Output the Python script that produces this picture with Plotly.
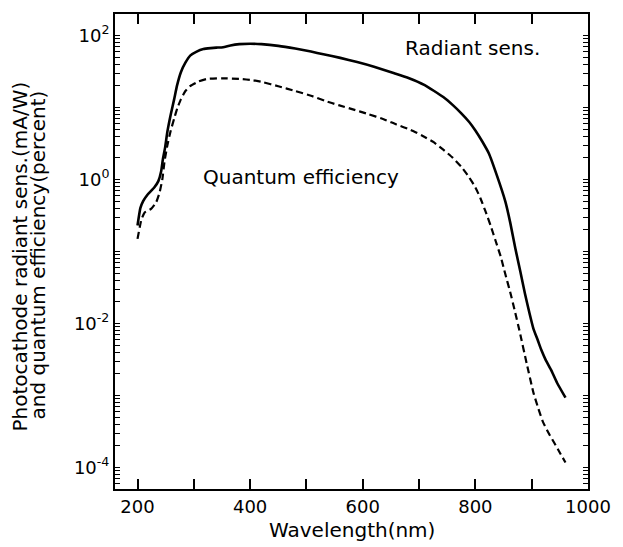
import plotly.graph_objects as go

# Radiant sensitivity (mA/W) -- solid curve
rad_wl = [200, 205, 210, 218, 230, 237, 242, 245, 249, 253, 259, 265, 270, 277, 285, 294, 305, 317, 330,
          340, 352, 365, 381, 400, 420, 450, 480, 508, 530, 560, 590, 620, 656, 680, 710, 743, 760, 775,
          789, 800, 812, 824, 838, 853, 862, 871, 880, 888, 896, 903, 911, 917, 925, 934, 945, 960]
rad_val = [0.23, 0.40, 0.50, 0.62, 0.78, 0.95, 1.3, 1.9, 2.8, 4.6, 8, 13, 20, 31, 42, 53, 60, 65, 67,
           68, 69, 73, 76, 77, 76, 72, 66, 60, 55, 49, 43, 37, 30, 26, 20.5, 14, 10.8, 8.3,
           6.3, 4.8, 3.4, 2.3, 1.15, 0.5, 0.25, 0.11, 0.052, 0.026, 0.014, 0.0085, 0.0058, 0.0043, 0.0031,
           0.0023, 0.0015, 0.00093]

# Quantum efficiency (percent) -- dashed curve
qe_wl = [200, 207, 213, 224, 233, 239, 244, 248, 253, 259, 265, 271, 277, 285, 294, 308, 323, 350, 381,
         405, 423, 450, 480, 508, 533, 557, 581, 610, 637, 660, 685, 705, 726, 743, 760, 775, 788, 800,
         809, 818, 827, 836, 845, 853, 862, 870, 879, 891, 903, 912, 920, 930, 940, 950, 960]
qe_val = [0.15, 0.28, 0.35, 0.39, 0.48, 0.65, 1.0, 1.8, 3.0, 4.8, 7, 10, 13, 17, 20, 23, 25, 25.5, 25,
          24, 22.5, 19.8, 17, 14.6, 12.4, 10.8, 9.5, 8.1, 6.9, 5.8, 4.9, 4.1, 3.3, 2.6, 2.0, 1.5, 1.1, 0.78,
          0.55, 0.36, 0.23, 0.14, 0.085, 0.049, 0.027, 0.015, 0.0075, 0.0028, 0.0011, 0.00065, 0.00043,
          0.0003, 0.00022, 0.00016, 0.000117]

x_ticks = [200, 300, 400, 500, 600, 700, 800, 900, 1000]
x_ticktext = ["200", "", "400", "", "600", "", "800", "", "1000"]
y_decades = [-5, -4, -3, -2, -1, 0, 1, 2]
y_labels = {-4: "10<sup>-4</sup>", -2: "10<sup>-2</sup>", 0: "10<sup>0</sup>", 2: "10<sup>2</sup>"}

# all y ticks (decades + 2..9 sub-ticks), labels only on even decades
y_all_vals, y_all_text = [], []
for e in y_decades:
    for m in range(1, 10):
        y_all_vals.append(m * 10.0 ** e)
        y_all_text.append(y_labels.get(e, "") if m == 1 else "")
y_major_vals = [10.0 ** e for e in y_decades]

FONT = "DejaVu Sans"

fig = go.Figure()
fig.add_trace(go.Scatter(x=rad_wl, y=rad_val, mode="lines",
                         line=dict(color="black", width=2.6, shape="spline", smoothing=0.4),
                         showlegend=False))
fig.add_trace(go.Scatter(x=qe_wl, y=qe_val, mode="lines",
                         line=dict(color="black", width=2.2, dash="7px,4px", shape="spline", smoothing=0.4),
                         showlegend=False))

fig.update_layout(
    width=623, height=547,
    margin=dict(l=115, r=24, t=12, b=58),
    paper_bgcolor="white", plot_bgcolor="white",
    font=dict(family=FONT, color="black", size=18),
    showlegend=False,
    xaxis=dict(
        range=[160, 1000], tickmode="array", tickvals=x_ticks, ticktext=x_ticktext,
        ticks="inside", ticklen=10, tickwidth=1.5, tickcolor="black",
        showline=True, linewidth=2, linecolor="black", mirror="allticks",
        showgrid=False, zeroline=False, tickfont=dict(size=18, family=FONT),
    ),
    yaxis=dict(
        type="log", range=[-4.3, 2.3], tickmode="array", tickvals=y_all_vals, ticktext=y_all_text,
        ticks="inside", ticklen=5, tickwidth=1, tickcolor="black",
        showline=True, linewidth=2, linecolor="black", mirror="allticks",
        showgrid=False, zeroline=False, tickfont=dict(size=18, family=FONT),
    ),
    yaxis2=dict(
        type="log", range=[-4.3, 2.3], overlaying="y", side="left", tickmode="array",
        tickvals=y_major_vals, ticks="inside", ticklen=10, tickwidth=1.5, tickcolor="black",
        showticklabels=False, showline=False, mirror="allticks",
        showgrid=False, zeroline=False,
    ),
)

fig.add_annotation(x=795, y=1.83, xref="x", yref="y", text="Radiant sens.", showarrow=False,
                   font=dict(size=20, family=FONT, color="black"))
fig.add_annotation(x=490, y=0.03, xref="x", yref="y", text="Quantum efficiency", showarrow=False,
                   font=dict(size=20, family=FONT, color="black"))
fig.add_annotation(x=0.5, y=0, xref="paper", yref="paper", yshift=-41, text="Wavelength(nm)",
                   showarrow=False, yanchor="middle", font=dict(size=20, family=FONT, color="black"))
fig.add_annotation(x=0, y=0.5, xref="paper", yref="paper", xshift=-96, yshift=-5,
                   text="Photocathode radiant sens.(mA/W)", textangle=-90, showarrow=False,
                   xanchor="center", yanchor="middle", font=dict(size=20, family=FONT, color="black"))
fig.add_annotation(x=0, y=0.5, xref="paper", yref="paper", xshift=-78, yshift=-4,
                   text="and quantum efficiency(percent)", textangle=-90, showarrow=False,
                   xanchor="center", yanchor="middle", font=dict(size=20, family=FONT, color="black"))

fig.write_html("out.html")
